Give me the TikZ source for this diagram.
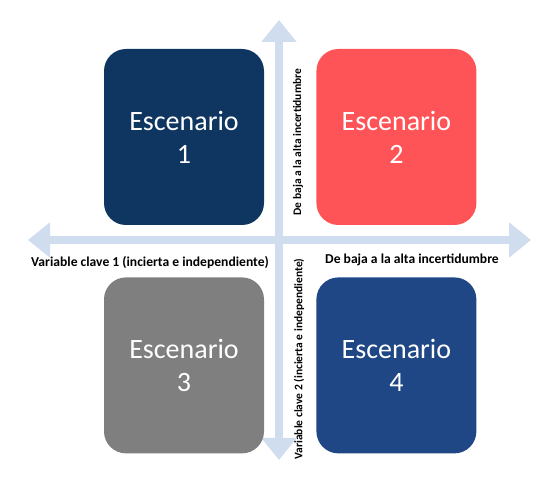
\documentclass[tikz,border=0pt]{standalone}
\usepackage{fontspec}
\setmainfont{Carlito}
\usetikzlibrary{positioning,arrows.meta}

\definecolor{navy}{HTML}{0E3660}
\definecolor{coral}{HTML}{FF5457}
\definecolor{midgray}{HTML}{7F7F7F}
\definecolor{royal}{HTML}{1F4785}
\definecolor{axisblue}{HTML}{CFDDEE}

\begin{document}
\begin{tikzpicture}[
  x=1pt, y=-1pt,
  font=\fontsize{13.6}{16}\selectfont\bfseries,
  scen/.style={rounded corners=22pt, align=center, text=white, inner sep=0pt,
               minimum width=160pt, minimum height=176pt,
               font=\fontsize{28}{33}\selectfont},
  axis/.style={line width=8pt, draw=axisblue,
               {Triangle[width=34pt,length=22pt]}-{Triangle[width=34pt,length=22pt]}},
  lab/.style={inner sep=0pt},
  vlab/.style={inner sep=0pt, rotate=90, font=\fontsize{11.5}{13}\selectfont\bfseries},
  node distance=52pt,
]
\useasboundingbox (0,0) rectangle (550,489);
% axes
\coordinate (west) at (28,240);
\coordinate (east) at (531,240);
\coordinate (north) at (279,20);
\coordinate (south) at (279,460);
\draw[axis] (west) -- (east);
\draw[axis] (south) -- (north);
% scenarios
\node[scen, fill=navy] (esc1) at (184,137) {Escenario\\1};
\node[scen, fill=coral, right=of esc1] (esc2) {Escenario\\2};
\node[scen, fill=midgray, below=of esc1] (esc3) {Escenario\\3};
\node[scen, fill=royal, below=of esc2] (esc4) {Escenario\\4};
% labels
\node[lab] (xvar) at (150,263) {Variable clave 1 (incierta e independiente)};
\node[lab] (xdeg) at (412,260) {De baja a la alta incertidumbre};
\node[vlab] (ydeg) at (298,142) {De baja a la alta incertidumbre};
\node[vlab] (yvar) at (299,359) {Variable clave 2 (incierta e independiente)};
\end{tikzpicture}
\end{document}
